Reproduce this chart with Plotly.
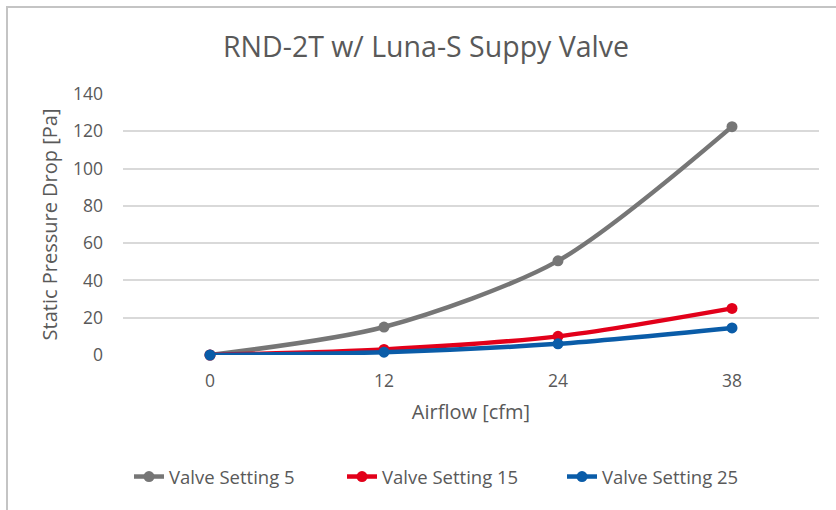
import plotly.graph_objects as go

categories = ["0", "12", "24", "38"]
setting5 = [0, 15, 50.5, 122.5]
setting15 = [0, 3, 10, 25]
setting25 = [0, 1.5, 6, 14.5]
series_names = ["Valve Setting 5", "Valve Setting 15", "Valve Setting 25"]
colors = ["#767676", "#E2001A", "#0A5CA8"]
y_ticks = [0, 20, 40, 60, 80, 100, 120, 140]

W, H = 836, 510
L, R, T, B = 123, 17, 94, 155
pw, ph = W - L - R, H - T - B

FONT = "Open Sans, Lato, sans-serif"
TXT = "#595959"


def px2x(p):
    return (p - L) / pw


def py2y(p):
    return (H - B - p) / ph


legend_ids = ["legend", "legend2", "legend3"]
legend_left_px = [129, 342, 562]

fig = go.Figure()
for name, vals, col, lid in zip(series_names, [setting5, setting15, setting25], colors, legend_ids):
    fig.add_trace(go.Scatter(
        x=categories, y=vals, name=name, mode="lines+markers",
        line=dict(color=col, width=4.5, shape="spline", smoothing=0.8),
        marker=dict(color=col, size=11),
        cliponaxis=False,
        legend=lid,
    ))

fig.add_shape(type="rect", xref="paper", yref="paper",
              x0=px2x(7), x1=px2x(W + 10), y0=py2y(7), y1=py2y(H + 10),
              line=dict(color="#C4C4C4", width=2), layer="below")

legend_cfg = {}
for lid, lx in zip(legend_ids, legend_left_px):
    legend_cfg[lid] = dict(
        orientation="h", x=px2x(lx), xanchor="left", y=py2y(477), yanchor="middle",
        font=dict(family=FONT, size=18.5, color=TXT), bgcolor="rgba(0,0,0,0)",
    )

fig.update_layout(
    width=W, height=H,
    margin=dict(l=L, r=R, t=T, b=B, autoexpand=False),
    paper_bgcolor="white", plot_bgcolor="white",
    font=dict(family=FONT, color=TXT, size=14),
    title=dict(text="RND-2T w/ Luna-S Suppy Valve", x=426 / W, xanchor="center",
               xref="container",
               y=1 - 47 / H, yanchor="middle",
               font=dict(family=FONT, size=28.5, color=TXT)),
    xaxis=dict(type="category", range=[-0.5, 3.5], showgrid=False, zeroline=False, showline=False,
               ticks="", tickfont=dict(family=FONT, size=17.5, color=TXT), ticklabelstandoff=13,
               title=dict(text="Airflow [cfm]", font=dict(family=FONT, size=20, color=TXT), standoff=14)),
    yaxis=dict(range=[0, 140], tickvals=y_ticks, showgrid=True, gridcolor="#D9D9D9",
               gridwidth=1.5, zeroline=False, showline=False, ticks="",
               tickfont=dict(family=FONT, size=17.5, color=TXT), ticklabelstandoff=19,
               title=dict(text="Static Pressure Drop [Pa]", font=dict(family=FONT, size=20, color=TXT), standoff=9)),
    showlegend=True,
    **legend_cfg,
)

fig.write_html("out.html", config={"displayModeBar": False},
               post_script="document.body.style.margin='0';document.body.style.padding='0';")
